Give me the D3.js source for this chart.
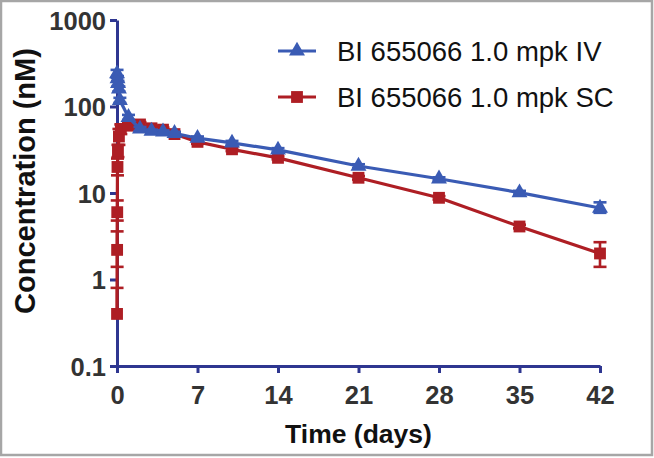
<!DOCTYPE html>
<html>
<head>
<meta charset="utf-8">
<script src="https://cdn.jsdelivr.net/npm/d3@7"></script>
<style>
  html, body { margin: 0; padding: 0; background: #fff; }
  svg { display: block; }
</style>
</head>
<body>
<svg id="chart" width="654" height="458"></svg>
<script>
// ---- data (time in days, concentration in nM) ----
const ivName = "BI 655066 1.0 mpk IV";
const ivTime = [0.0035, 0.042, 0.083, 0.167, 0.25, 1, 2, 3, 4, 5, 7, 10, 14, 21, 28, 35, 42];
const ivConc = [240, 210, 185, 160, 118, 75, 55, 52, 51, 49, 43, 38, 31.5, 20.5, 14.6, 10.1, 6.7];
const ivLo   = [215, 195, 172, 150, 110, 70, 52, 50, 49, 47, 41, 36, 30, 19.5, 14, 9.6, 5.9];
const ivHi   = [265, 225, 198, 170, 126, 80, 58, 54, 53, 51, 45, 40, 33, 21.5, 15.2, 10.6, 7.8];

const scName = "BI 655066 1.0 mpk SC";
const scTime = [0.0035, 0.0104, 0.0208, 0.042, 0.083, 0.167, 0.333, 1, 2, 3, 4, 5, 7, 10, 14, 21, 28, 35, 42];
const scConc = [0.4, 2.2, 6.0, 20, 31, 45, 55, 60, 62, 56, 54, 48, 39, 32, 25.5, 15, 8.8, 4.1, 2.0];
const scLo   = [0.4, 1.4, 4.8, 16, 26, 36, 48, 56, 58, 53, 51, 46, 37, 30.5, 24.5, 14.3, 8.4, 3.9, 1.4];
const scHi   = [0.8, 3.6, 8.2, 25, 36, 55, 62, 64, 66, 59, 57, 50, 41, 33.5, 26.5, 15.7, 9.2, 4.3, 2.7];

const xTicks = [0, 7, 14, 21, 28, 35, 42];
const yTicks = [0.1, 1, 10, 100, 1000];
const yTickLabels = ["0.1", "1", "10", "100", "1000"];
const xTitle = "Time (days)";
const yTitle = "Concentration (nM)";

// ---- styling ----
const blue = "#3a5bb4";
const red = "#ae1e24";
const axisColor = "#2e3690";
const font = "'Liberation Sans', Arial, Helvetica, sans-serif";

const svg = d3.select("#chart");

// frame
svg.append("rect").attr("x", 1).attr("y", 1).attr("width", 651).attr("height", 454)
  .attr("fill", "none").attr("stroke", "#a6a6a6").attr("stroke-width", 2.5);

const x = d3.scaleLinear().domain([0, 42]).range([117, 600]);
const y = d3.scaleLog().domain([0.1, 1000]).range([366, 20]);

// axes
const xAxis = d3.axisBottom(x).tickValues(xTicks).tickSize(7).tickSizeOuter(0).tickPadding(13)
  .tickFormat(d3.format("d"));
const gx = svg.append("g").attr("transform", `translate(0,${y(0.1)})`).call(xAxis);

const yAxis = d3.axisLeft(y).tickValues(yTicks).tickSize(7).tickSizeOuter(0).tickPadding(4)
  .tickFormat((d, i) => yTickLabels[i]);
const gy = svg.append("g").attr("transform", `translate(${x(0)},0)`).call(yAxis);

[gx, gy].forEach(g => {
  g.select(".domain").attr("stroke", axisColor).attr("stroke-width", 3);
  g.selectAll(".tick line").attr("stroke", axisColor).attr("stroke-width", 3);
  g.selectAll(".tick text").attr("fill", "#333").attr("font-family", font)
    .attr("font-weight", "bold").attr("font-size", 25.5);
});
gy.selectAll(".tick text").attr("dy", "0.36em");

// titles
svg.append("text").attr("x", (x(0) + x(42)) / 2).attr("y", 443)
  .attr("text-anchor", "middle").attr("font-family", font).attr("font-weight", "bold")
  .attr("font-size", 26.5).attr("fill", "#111").text(xTitle);
svg.append("text").attr("transform", `translate(35,181) rotate(-90)`)
  .attr("text-anchor", "middle").attr("font-family", font).attr("font-weight", "bold")
  .attr("font-size", 29).attr("fill", "#111").text(yTitle);

// series drawing
function drawSeries(times, conc, lo, hi, color, symbolType, size) {
  const pts = times.map((t, i) => ({ t, v: conc[i], lo: lo[i], hi: hi[i] }));
  const g = svg.append("g");
  g.append("path").datum(pts)
    .attr("d", d3.line().x(d => x(d.t)).y(d => y(d.v)))
    .attr("fill", "none").attr("stroke", color).attr("stroke-width", 3.2)
    .attr("stroke-linejoin", "round");
  const eb = g.append("g").selectAll("g").data(pts).join("g");
  eb.append("line").attr("x1", d => x(d.t)).attr("x2", d => x(d.t))
    .attr("y1", d => y(d.lo)).attr("y2", d => y(d.hi))
    .attr("stroke", color).attr("stroke-width", 2.6);
  eb.append("line").attr("x1", d => x(d.t) - 6.5).attr("x2", d => x(d.t) + 6.5)
    .attr("y1", d => y(d.hi)).attr("y2", d => y(d.hi))
    .attr("stroke", color).attr("stroke-width", 2.6);
  eb.filter(d => d.lo < d.v).append("line").attr("x1", d => x(d.t) - 6.5).attr("x2", d => x(d.t) + 6.5)
    .attr("y1", d => y(d.lo)).attr("y2", d => y(d.lo))
    .attr("stroke", color).attr("stroke-width", 2.6);
  g.append("g").selectAll("path").data(pts).join("path")
    .attr("transform", d => `translate(${x(d.t)},${y(d.v)})`)
    .attr("d", d3.symbol().type(symbolType).size(size))
    .attr("fill", color);
}

drawSeries(scTime, scConc, scLo, scHi, red, d3.symbolSquare, 140);
drawSeries(ivTime, ivConc, ivLo, ivHi, blue, d3.symbolTriangle, 110);

// legend
const legend = [
  { name: ivName, color: blue, sym: d3.symbolTriangle, size: 110, y: 51 },
  { name: scName, color: red, sym: d3.symbolSquare, size: 140, y: 97 }
];
const lg = svg.append("g").selectAll("g").data(legend).join("g");
lg.append("line").attr("x1", 278).attr("x2", 316).attr("y1", d => d.y).attr("y2", d => d.y)
  .attr("stroke", d => d.color).attr("stroke-width", 3.2);
lg.append("path").attr("transform", d => `translate(297,${d.y})`)
  .attr("d", d => d3.symbol().type(d.sym).size(d.size)()).attr("fill", d => d.color);
lg.append("text").attr("x", 337).attr("y", d => d.y).attr("dy", "0.35em")
  .attr("font-family", font).attr("font-size", 27.5).attr("fill", "#111").text(d => d.name);
</script>
</body>
</html>
